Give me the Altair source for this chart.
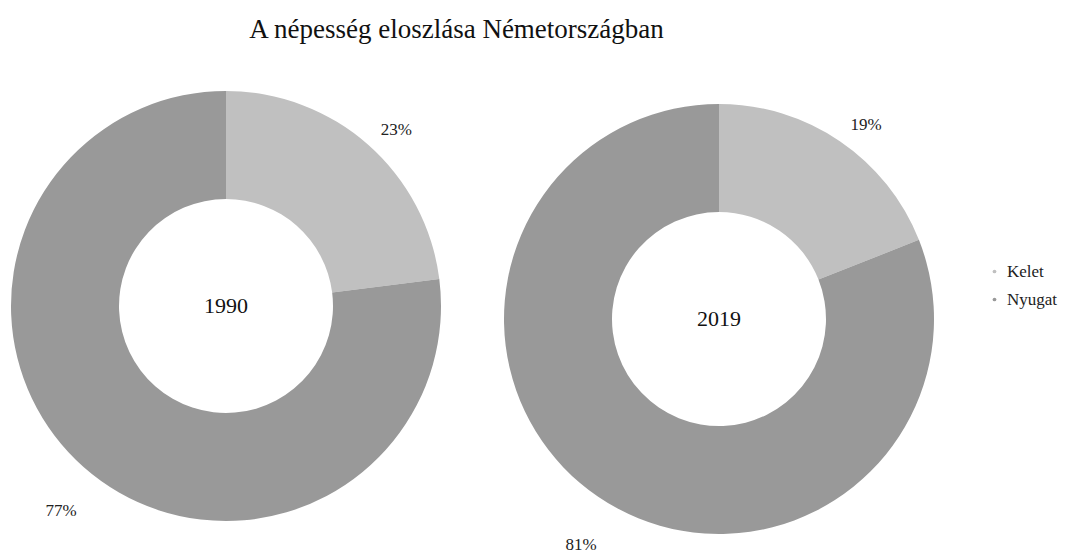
import altair as alt
import pandas as pd

years = ["1990", "2019"]
regions = ["Kelet", "Nyugat"]
kelet = [23, 19]
nyugat = [77, 81]
colors = ["#c0c0c0", "#999999"]

rows = []
for i, y in enumerate(years):
    for j, (r, v) in enumerate(zip(regions, [kelet[i], nyugat[i]])):
        rows.append({"year": y, "region": r, "value": v, "order": j, "label": f"{v}%"})
df = pd.DataFrame(rows)

FONT = "Liberation Serif"
TOP = 50
TOTAL_H = 545
centers = {"1990": (218, 298 - TOP), "2019": (711, 311 - TOP)}

color = alt.Color(
    "region:N",
    scale=alt.Scale(domain=regions, range=colors),
    legend=alt.Legend(
        title=None, orient="none", legendX=978, legendY=263 - 8 - TOP,
        symbolType="circle", symbolSize=14, labelFont=FONT, labelFontSize=17,
        labelColor="#222", rowPadding=10, symbolStrokeWidth=0,
    ),
)

base = alt.Chart(df)
layers = []
for y in years:
    cx, cy = centers[y]
    b = base.transform_filter(alt.datum.year == y)
    arc = b.mark_arc(innerRadius=107, outerRadius=215, x=cx, y=cy).encode(
        theta=alt.Theta("value:Q", stack=True),
        color=color,
        order=alt.Order("order:Q"),
    )
    lab_k = b.mark_text(radius=234, x=cx, y=cy, font=FONT, fontSize=17, color="#222",
                        align="left").encode(
        theta=alt.Theta("value:Q", stack=True),
        order=alt.Order("order:Q"),
        text=alt.Text("label:N"),
        opacity=alt.condition(alt.datum.region == "Kelet", alt.value(1), alt.value(0)),
    )
    lab_n = b.mark_text(radius=273, x=cx, y=cy, font=FONT, fontSize=17, color="#222",
                        align="left").encode(
        theta=alt.Theta("value:Q", stack=True),
        order=alt.Order("order:Q"),
        text=alt.Text("label:N"),
        opacity=alt.condition(alt.datum.region == "Nyugat", alt.value(1), alt.value(0)),
    )
    center = b.transform_filter(alt.datum.region == "Kelet").mark_text(
        x=cx, y=cy, font=FONT, fontSize=22, color="#111"
    ).encode(text="year:N")
    layers += [arc, lab_k, lab_n, center]

chart = alt.layer(*layers).resolve_scale(theta="independent").properties(
    width=1053, height=TOTAL_H - TOP,
    autosize=alt.AutoSizeParams(type="none"),
    padding={"top": TOP, "left": 0, "right": 0, "bottom": 0},
    title=alt.TitleParams(
        "A népesség eloszlása Németországban", font=FONT, fontSize=27,
        fontWeight="normal", color="#111", anchor="middle", dx=-78, offset=14,
    ),
).configure_view(stroke=None)

chart.save("out.html", embed_options={"renderer": "svg", "actions": False})
